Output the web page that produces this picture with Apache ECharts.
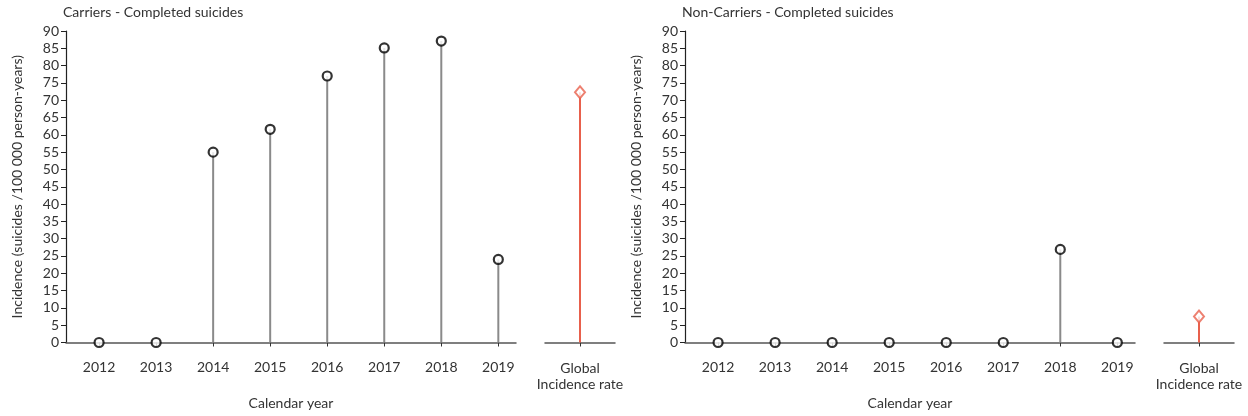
<!DOCTYPE html>
<html><head><meta charset="utf-8">
<script src="https://cdn.jsdelivr.net/npm/echarts@6/dist/echarts.min.js"></script>
<style>html,body{margin:0;padding:0;background:#fff}#c{width:1248px;height:416px}</style>
</head><body><div id="c"></div>
<script>
const years = [2012, 2013, 2014, 2015, 2016, 2017, 2018, 2019];
const carriers = [0, 0, 55, 61.6, 77, 85.1, 87.1, 24];
const nonCarriers = [0, 0, 0, 0, 0, 0, 26.9, 0];
const globalLabel = ['Global\nIncidence rate'];
const globalCarriers = [72.3];
const globalNonCarriers = [7.5];
const panelTitles = ['Carriers - Completed suicides', 'Non-Carriers - Completed suicides'];
const yTitle = 'Incidence (suicides /100 000 person-years)';
const xTitle = 'Calendar year';

const FONT = 'Lato';
const FS = 14;
const TXT = '#333';
const STEM = '#8a8a8a';
const RED = '#e8604c';

const chart = echarts.init(document.getElementById('c'), null, {renderer: 'canvas'});

function mainX(gi) {
  return {
    gridIndex: gi, type: 'value', min: 2011.42, max: 2019.31, offset: 6,
    splitLine: {show: false},
    axisLine: {show: true, lineStyle: {color: '#555', width: 1.5}},
    axisTick: {show: true, length: 4, lineStyle: {color: '#333'}, customValues: years},
    axisLabel: {color: TXT, fontFamily: FONT, fontSize: FS, margin: 12, customValues: years, formatter: v => String(v)},
    name: xTitle, nameLocation: 'middle', nameGap: 48,
    nameTextStyle: {color: TXT, fontFamily: FONT, fontSize: FS}
  };
}
function globX(gi) {
  return {
    gridIndex: gi, type: 'category', data: globalLabel, offset: 6, boundaryGap: true,
    axisLine: {show: true, lineStyle: {color: '#555', width: 1.5}},
    axisTick: {show: true, length: 4, alignWithLabel: true, lineStyle: {color: '#333'}},
    axisLabel: {color: TXT, fontFamily: FONT, fontSize: FS, margin: 12, lineHeight: 16}
  };
}
function mainY(gi) {
  return {
    gridIndex: gi, type: 'value', min: 0, max: 90, interval: 5,
    splitLine: {show: false},
    axisLine: {show: true, lineStyle: {color: '#222', width: 1.2}},
    axisTick: {show: true, length: 5, lineStyle: {color: '#222'}},
    axisLabel: {color: TXT, fontFamily: FONT, fontSize: FS, margin: 7},
    name: yTitle, nameLocation: 'middle', nameGap: 42, nameRotate: 90,
    nameTextStyle: {color: TXT, fontFamily: FONT, fontSize: FS}
  };
}
function globY(gi) {
  return {gridIndex: gi, type: 'value', min: 0, max: 90, show: false};
}

const circleStyle = {color: '#fff', borderColor: '#000', borderWidth: 2.2};
const diamondStyle = {color: '#fff', borderColor: RED, borderWidth: 2};

function pairs(xs, ys) { return xs.map((x, i) => [x, ys[i]]); }

function lollipop(xi, data, stemColor, sym, symSize, symStyle) {
  return [
    {type: 'bar', xAxisIndex: xi, yAxisIndex: xi, data: data, barWidth: 2,
     itemStyle: {color: stemColor}, silent: true, z: 2},
    {type: 'scatter', xAxisIndex: xi, yAxisIndex: xi, data: data, symbol: sym,
     symbolSize: symSize, itemStyle: symStyle, z: 5}
  ];
}

const option = {
  animation: false,
  backgroundColor: '#fff',
  textStyle: {fontFamily: FONT},
  title: [
    {text: panelTitles[0], left: 63, top: 5, padding: 0, textStyle: {color: TXT, fontFamily: FONT, fontSize: FS, fontWeight: 'normal'}},
    {text: panelTitles[1], left: 682, top: 5, padding: 0, textStyle: {color: TXT, fontFamily: FONT, fontSize: FS, fontWeight: 'normal'}}
  ],
  grid: [
    {left: 66, width: 450, top: 31, bottom: 73.5},
    {left: 545, width: 70, top: 31, bottom: 73.5},
    {left: 685, width: 450, top: 31, bottom: 73.5},
    {left: 1164, width: 70, top: 31, bottom: 73.5}
  ],
  xAxis: [mainX(0), globX(1), mainX(2), globX(3)],
  yAxis: [mainY(0), globY(1), mainY(2), globY(3)],
  series: [
    ...lollipop(0, pairs(years, carriers), STEM, 'circle', 9, circleStyle),
    ...lollipop(1, globalCarriers, RED, 'diamond', [10, 12], diamondStyle),
    ...lollipop(2, pairs(years, nonCarriers), STEM, 'circle', 9, circleStyle),
    ...lollipop(3, globalNonCarriers, RED, 'diamond', [10, 12], diamondStyle)
  ]
};
chart.setOption(option);
</script></body></html>
